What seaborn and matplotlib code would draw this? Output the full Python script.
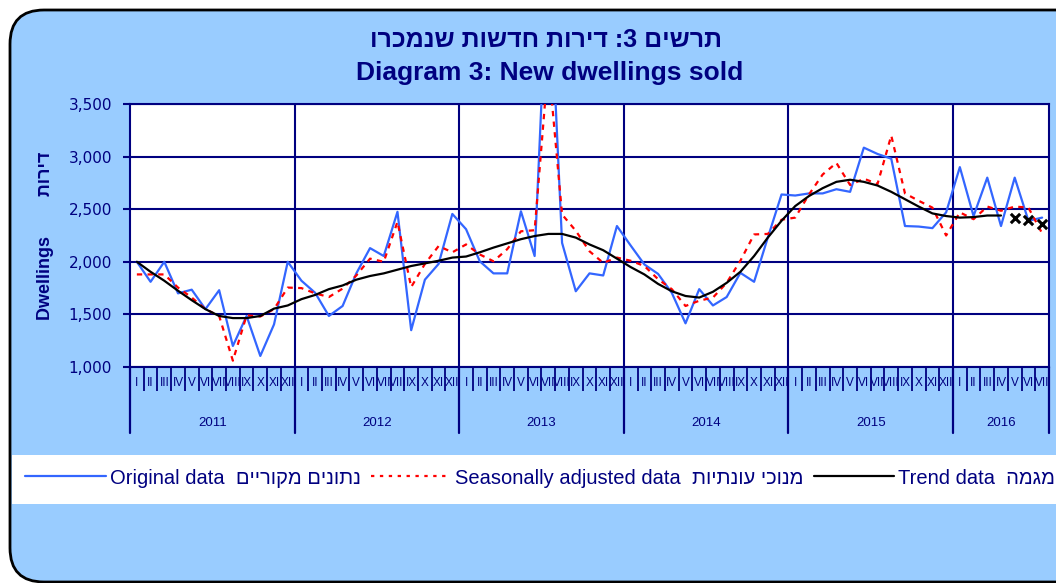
import numpy as np
import pandas as pd
import matplotlib
matplotlib.use("Agg")
import matplotlib.pyplot as plt
import matplotlib.transforms as mtrans
from matplotlib.patches import FancyBboxPatch, Rectangle
from matplotlib.lines import Line2D
import seaborn as sns

# data
years = [2011, 2012, 2013, 2014, 2015, 2016]
month_names = ["I", "II", "III", "IV", "V", "VI", "VII", "VIII", "IX", "X", "XI", "XII"]
n_months = 67  # Jan 2011 - Jul 2016

original = [
    2000, 1810, 2000, 1700, 1735, 1550, 1730, 1200, 1485, 1105, 1405, 2000,
    1820, 1705, 1485, 1580, 1890, 2130, 2055, 2475, 1350, 1830, 1980, 2455,
    2310, 2005, 1890, 1890, 2480, 2055, 5000, 2180, 1720, 1890, 1870, 2340,
    2155, 1975, 1885, 1705, 1415, 1740, 1585, 1665, 1895, 1810, 2230, 2640,
    2630, 2650, 2650, 2690, 2665, 3085, 3025, 2980, 2340, 2335, 2320, 2470,
    2900, 2435, 2800, 2340, 2800, 2390, 2420]

seasonal = [
    1880, 1880, 1880, 1755, 1660, 1550, 1485, 1060, 1490, 1480, 1550, 1755,
    1750, 1700, 1665, 1745, 1870, 2030, 2000, 2380, 1760, 1980, 2150, 2090,
    2165, 2070, 2005, 2120, 2290, 2300, 3900, 2450, 2295, 2100, 1990, 2040,
    2010, 1960, 1835, 1740, 1580, 1630, 1660, 1800, 2010, 2260, 2265, 2400,
    2420, 2640, 2830, 2940, 2730, 2790, 2740, 3200, 2650, 2580, 2515, 2250,
    2470, 2405, 2525, 2485, 2525, 2515, 2270]

trend = [
    2000, 1905, 1820, 1725, 1635, 1550, 1485, 1465, 1465, 1485, 1555, 1585,
    1645, 1685, 1740, 1775, 1830, 1865, 1890, 1925, 1960, 1985, 2010, 2040,
    2050, 2090, 2135, 2175, 2215, 2245, 2265, 2265, 2230, 2165, 2110, 2030,
    1950, 1880, 1790, 1720, 1675, 1660, 1715, 1800, 1905, 2055, 2230, 2390,
    2530, 2625, 2700, 2760, 2780, 2760, 2725, 2665, 2595, 2525, 2460, 2435,
    2420, 2425, 2440, 2440]

trend_forecast = [2420, 2395, 2355]  # last three months, shown as x

title_he = "תרשים 3: דירות חדשות שנמכרו"
title_en = "Diagram 3: New dwellings sold"
ylab_he = "דירות"
ylab_en = "Dwellings"
leg_he = ["נתונים מקוריים", "מנוכי עונתיות", "מגמה"]
leg_en = ["Original data", "Seasonally adjusted data", "Trend data"]


def rtl(s):
    # matplotlib draws left to right, so hebrew goes in reversed
    return s[::-1]


navy = "#000080"
bg = "#99CCFF"
blue = "#3366FF"

sns.set_style("white")
plt.rcParams["font.family"] = ["Liberation Sans", "DejaVu Sans"]

W, H = 1056, 583
fig = plt.figure(figsize=(W / 100, H / 100), dpi=100, facecolor="white")

# rounded blue frame
frame = FancyBboxPatch((10, 1), 1120, 572, boxstyle="round,pad=0,rounding_size=34",
                       transform=None, fc=bg, ec="black", lw=2, zorder=-10)
fig.add_artist(frame)
# white legend strip
fig.add_artist(Rectangle((12 / W, 1 - 504 / H), 1, 49 / H, transform=fig.transFigure,
                         fc="white", ec="none", zorder=-5))

ax = fig.add_axes([130 / W, 1 - 367 / H, 919 / W, 263 / H])
ax.set_facecolor("white")

pos = np.arange(n_months) + 0.5
df = pd.DataFrame({"pos": pos, "original": original, "seasonal": seasonal})

sns.lineplot(data=df, x="pos", y="original", ax=ax, color=blue, lw=1.6, zorder=3)
sns.lineplot(data=df, x="pos", y="seasonal", ax=ax, color="red", lw=1.6,
             linestyle=(0, (2.4, 2.4)), zorder=4)
sns.lineplot(x=pos[:len(trend)], y=trend, ax=ax, color="black", lw=1.6, zorder=5)
sns.scatterplot(x=pos[len(trend):], y=trend_forecast, ax=ax, marker="x", s=45,
                color="black", linewidth=2.2, zorder=6)

ax.set_xlim(0, n_months)
ax.set_ylim(1000, 3500)
ax.set_xlabel("")
ax.set_ylabel("")

# y axis
ax.set_yticks(range(1000, 3501, 500))
ax.set_yticklabels([f"{v:,}" for v in range(1000, 3501, 500)], fontsize=11,
                   color=navy, family="DejaVu Sans")
ax.tick_params(axis="y", length=5, width=1.5, color=navy, pad=8, left=True)
ax.yaxis.grid(True, color=navy, lw=1.5)
for b in range(12, n_months, 12):
    ax.axvline(b, color=navy, lw=1.5, zorder=2)
for sp in ax.spines.values():
    sp.set_color(navy)
    sp.set_linewidth(1.5)

# x axis: month ticks + roman labels, year separators + year labels
ax.set_xticks(np.arange(0, n_months + 1))
ax.set_xticklabels([])
ax.tick_params(axis="x", which="major", length=17, width=1.3, color=navy, bottom=True)
ax.set_xticks(pos, minor=True)
ax.set_xticklabels([month_names[i % 12] for i in range(n_months)], minor=True,
                   fontsize=8.5, color=navy,
                   family=["Liberation Sans Narrow", "Liberation Sans"])
ax.tick_params(axis="x", which="minor", length=0, pad=7)

blend = mtrans.blended_transform_factory(ax.transData, ax.transAxes)
bounds = list(range(0, n_months, 12)) + [n_months]
for b in bounds:
    ax.plot([b, b], [0, -66 / 263], transform=blend, clip_on=False, color=navy, lw=1.6)
for i, yr in enumerate(years):
    c = (bounds[i] + bounds[i + 1]) / 2
    ax.text(c, -56 / 263, str(yr), transform=blend, ha="center", va="center",
            fontsize=9.5, color=navy)

# titles
fig.text(546 / W, 1 - 40 / H, rtl(title_he), ha="center", va="center",
         fontsize=18, fontweight="bold", color=navy)
fig.text(550 / W, 1 - 73 / H, title_en, ha="center", va="center",
         fontsize=19, fontweight="bold", color=navy)

fig.text(46 / W, 1 - 236 / H, ylab_en + " " * 8 + rtl(ylab_he), rotation=90,
         ha="center", va="center", fontsize=13, fontweight="bold", color=navy)

# legend
handles = [Line2D([], [], color=blue, lw=1.6),
           Line2D([], [], color="red", lw=1.6, linestyle=(0, (1.5, 2.5))),
           Line2D([], [], color="black", lw=1.6)]
labels = [en + "  " + rtl(he) for en, he in zip(leg_en, leg_he)]
fig.legend(handles, labels, loc="center left", bbox_to_anchor=(25 / W, 1 - 478 / H),
           ncol=3, frameon=False, fontsize=14.5, handlelength=4.0, handletextpad=0.2,
           columnspacing=0.5, borderpad=0, borderaxespad=0, labelcolor=navy)

fig.savefig("out.png", dpi=100, facecolor="white")
